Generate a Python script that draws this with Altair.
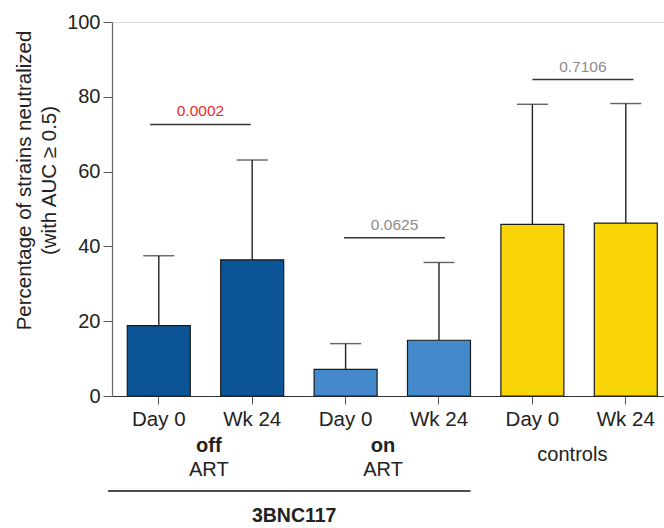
import altair as alt
import pandas as pd

# Bar data: mean % of strains neutralized and upper error (mean + SD)
groups = ["off", "off", "on", "on", "controls", "controls"]
timepoints = ["Day 0", "Wk 24", "Day 0", "Wk 24", "Day 0", "Wk 24"]
mean_pct = [18.8, 36.4, 7.1, 14.9, 45.9, 46.2]
upper_pct = [37.5, 63.1, 14.0, 35.7, 78.0, 78.2]

group_names = ["off", "on", "controls"]
group_fill = ["#0b5596", "#4389cc", "#f9d508"]

# Comparison brackets (Day 0 vs Wk 24 within each group)
bracket_y = [72.6, 42.3, 84.6]
p_values = ["0.0002", "0.0625", "0.7106"]
p_colors = ["#ee2a2a", "#8c8c8c", "#8c8c8c"]
bracket_offsets = [(-8.7, -1.4), (-1.5, 6.0), (0.0, 7.6)]

# Group captions under the axis
caption_bold = ["off", "on", ""]
caption_plain = ["ART", "ART", "controls"]
caption_shift = [50, 37.5, 40]

W, H = 552, 374
FONT = "Liberation Sans"
INK = "#222222"

keys = [f"{t}|{g}" for t, g in zip(timepoints, groups)]
bars = pd.DataFrame({"key": keys, "group": groups, "mean": mean_pct, "upper": upper_pct})

P_IN, P_OUT = 0.3255, 0.1178
x_scale = alt.Scale(domain=keys, paddingInner=P_IN, paddingOuter=P_OUT, align=0.695)
x_axis = alt.Axis(
    title=None,
    labelExpr="split(datum.label, '|')[0]",
    labelFont=FONT, labelFontSize=20.5, labelColor=INK, labelPadding=5,
    tickSize=8, tickColor="#555555", tickWidth=1,
    domainColor="#333333", domainWidth=1.2, labelAngle=0,
)


def xk(field):
    return alt.X(f"{field}:N", scale=x_scale, axis=x_axis, sort=keys)


y_scale = alt.Scale(domain=[0, 100], nice=False)
y_axis = alt.Axis(
    title=["Percentage of strains neutralized", "(with AUC \u2265 0.5)"],
    titleFont=FONT, titleFontSize=20.5, titleFontWeight="normal", titleColor=INK,
    titleLineHeight=25, titleBaseline="middle", titleX=-88, titleY=158,
    values=[0, 20, 40, 60, 80, 100], grid=False,
    labelFont=FONT, labelFontSize=20, labelColor=INK, labelPadding=3,
    tickSize=9, tickColor="#555555", domainColor="#666666", domainWidth=1.2,
)

base = alt.Chart(bars)

bar_layer = base.mark_bar(stroke="#1a1a1a", strokeWidth=1.2).encode(
    x=xk("key"), y=alt.Y("mean:Q", scale=y_scale, axis=y_axis),
    color=alt.Color("group:N", scale=alt.Scale(domain=group_names, range=group_fill), legend=None),
)
stem_layer = base.mark_rule(color=INK, strokeWidth=1.4).encode(
    x=xk("key"), y=alt.Y("mean:Q", scale=y_scale), y2="upper:Q"
)
cap_layer = base.mark_tick(color=INK, thickness=1.4, size=31).encode(
    x=xk("key"), y=alt.Y("upper:Q", scale=y_scale)
)

layers = [bar_layer, stem_layer, cap_layer]

# Brackets with p-values
step = W / (6 - P_IN + 2 * P_OUT)
for i in range(3):
    row = pd.DataFrame({
        "start": [keys[2 * i]], "end": [keys[2 * i + 1]],
        "y": [bracket_y[i]], "p": [p_values[i]],
    })
    so, eo = bracket_offsets[i]
    layers.append(
        alt.Chart(row).mark_rule(color="#333333", strokeWidth=1.5, xOffset=so, x2Offset=eo).encode(
            x=xk("start"), x2="end:N", y=alt.Y("y:Q", scale=y_scale)
        )
    )
    layers.append(
        alt.Chart(row).mark_text(
            font=FONT, fontSize=15.5, color=p_colors[i], baseline="alphabetic",
            dy=-8, xOffset=(step + so + eo) / 2,
        ).encode(x=xk("start"), y=alt.Y("y:Q", scale=y_scale), text="p:N")
    )

# Group captions below the axis
for i in range(3):
    row = pd.DataFrame({"key": [keys[2 * i]], "bold": [caption_bold[i]], "plain": [caption_plain[i]]})
    if caption_bold[i]:
        layers.append(
            alt.Chart(row).mark_text(
                font=FONT, fontSize=20, fontWeight="bold", color=INK,
                baseline="alphabetic", xOffset=caption_shift[i],
            ).encode(x=xk("key"), y=alt.value(429.7), text="bold:N")
        )
        layers.append(
            alt.Chart(row).mark_text(
                font=FONT, fontSize=20, color=INK, baseline="alphabetic", xOffset=caption_shift[i],
            ).encode(x=xk("key"), y=alt.value(454), text="plain:N")
        )
    else:
        layers.append(
            alt.Chart(row).mark_text(
                font=FONT, fontSize=20, color=INK, baseline="alphabetic", xOffset=caption_shift[i],
            ).encode(x=xk("key"), y=alt.value(439), text="plain:N")
        )

# Antibody bracket spanning the off/on ART groups
ab = pd.DataFrame({"start": [keys[0]], "end": [keys[3]], "mid": [keys[1]], "label": ["3BNC117"]})
layers.append(
    alt.Chart(ab).mark_rule(color="#111111", strokeWidth=1.5, xOffset=-50.7, x2Offset=31.6).encode(
        x=xk("start"), x2="end:N", y=alt.value(469)
    )
)
layers.append(
    alt.Chart(ab).mark_text(
        font=FONT, fontSize=19.5, fontWeight="bold", color=INK, baseline="alphabetic", xOffset=42,
    ).encode(x=xk("mid"), y=alt.value(499.7), text="label:N")
)

chart = alt.layer(*layers).properties(
    width=W, height=H,
    autosize=alt.AutoSizeParams(type="none"),
    padding={"left": 112, "top": 22, "right": 0, "bottom": 132},
).configure_view(stroke=None).configure(background="white")

chart.save("out.html", embed_options={"renderer": "svg", "actions": False})
